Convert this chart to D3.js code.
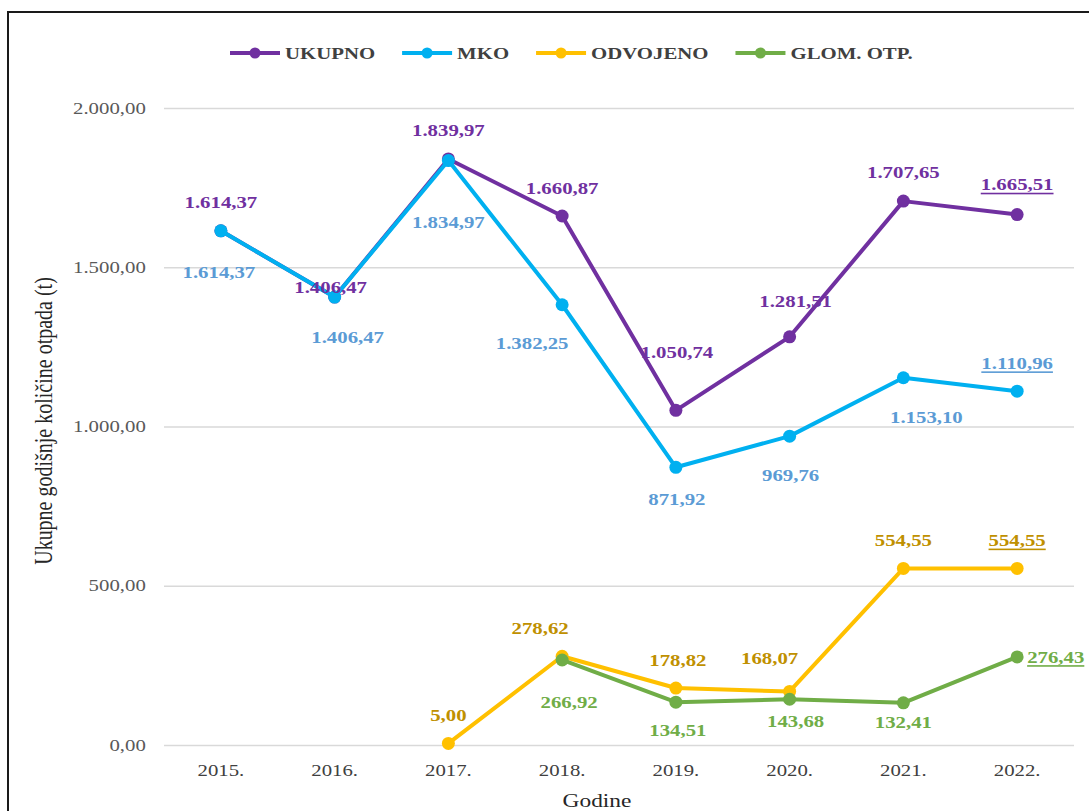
<!DOCTYPE html>
<html>

<head>
    <meta charset='utf-8'>
    <title>Otpad</title>
    <script type='text/javascript' src='https://cdn.jsdelivr.net/npm/d3@7'></script>
    <style>
        body { margin: 0; background: #fff; }
        text { font-family: 'Liberation Serif', 'Times New Roman', serif; }
    </style>
</head>

<body>
    <svg width='1089' height='811'></svg>
    <script type='text/javascript'>
        // podaci
        const years = ['2015.', '2016.', '2017.', '2018.', '2019.', '2020.', '2021.', '2022.']
        const ukupno = [1614.37, 1406.47, 1839.97, 1660.87, 1050.74, 1281.51, 1707.65, 1665.51]
        const mko = [1614.37, 1406.47, 1834.97, 1382.25, 871.92, 969.76, 1153.10, 1110.96]
        const odvojeno = [null, null, 5.00, 278.62, 178.82, 168.07, 554.55, 554.55]
        const glom = [null, null, null, 266.92, 134.51, 143.68, 132.41, 276.43]
        const yTicks = [0, 500, 1000, 1500, 2000]

        // pomaci oznaka (sredina teksta u odnosu na tocku)
        const offUkupno = [[0, -28], [-4, -10], [0, -29], [0, -28], [1, -58], [6, -35], [0, -29], [0, -30]]
        const offMko = [[-2, 42], [13, 40], [0, 62], [-30, 39], [1, 32], [1, 39], [23, 40], [0, -28]]
        const offOdv = [null, null, [0, -28], [-22, -28], [2, -28], [-20, -33], [0, -28], [0, -28]]
        const offGlom = [null, null, null, [7, 42], [2, 28], [6, 22], [0, 20], [10, 0]]

        const series = [
            { name: 'UKUPNO', values: ukupno, off: offUkupno, color: '#7030A0', label: '#7030A0' },
            { name: 'MKO', values: mko, off: offMko, color: '#00B0F0', label: '#5B9BD5' },
            { name: 'ODVOJENO', values: odvojeno, off: offOdv, color: '#FFC000', label: '#BF9000' },
            { name: 'GLOM. OTP.', values: glom, off: offGlom, color: '#70AD47', label: '#70AD47' }
        ]

        const SX = 1.3 // slika je rastegnuta vodoravno
        const svg = d3.select('svg')
        const loc = d3.formatLocale({ decimal: ',', thousands: '.', grouping: [3], currency: ['', ''] })
        const fmt = loc.format(',.2f')

        const x = d3.scaleBand().domain(years).range([164, 1074])
        const y = d3.scaleLinear().domain([0, 2000]).range([745, 108])
        const cx = i => x(years[i]) + x.bandwidth() / 2

        // okvir
        svg.append('rect')
            .attr('x', 8).attr('y', 12).attr('width', 1100).attr('height', 820)
            .attr('fill', 'none').attr('stroke', '#1a1a1a').attr('stroke-width', 2)

        // y os s mrezom
        const gy = svg.append('g').attr('transform', 'translate(164,0)')
            .call(d3.axisLeft(y).tickValues(yTicks).tickFormat(fmt).tickSize(-910))
        gy.select('.domain').remove()
        gy.selectAll('line').attr('stroke', '#d9d9d9').attr('stroke-width', 1.5)
        gy.selectAll('text')
            .attr('x', -14).attr('transform', `scale(${SX},1)`)
            .attr('fill', '#595959').style('font-size', '16px')

        // x os
        const gx = svg.append('g').attr('transform', 'translate(0,745)')
            .call(d3.axisBottom(x).tickSize(0))
        gx.select('.domain').remove()
        gx.selectAll('text')
            .attr('y', 20).attr('transform', `scale(${SX},1)`)
            .attr('fill', '#404040').style('font-size', '16px')

        // naslovi osi
        svg.append('text')
            .attr('transform', `translate(43,421) scale(${SX},1) rotate(-90)`)
            .attr('text-anchor', 'middle').attr('dominant-baseline', 'central')
            .attr('fill', '#262626').style('font-size', '20px')
            .text('Ukupne godišnje količine otpada (t)')
        svg.append('text')
            .attr('transform', `translate(597,807) scale(${SX},1)`)
            .attr('text-anchor', 'middle')
            .attr('fill', '#262626').style('font-size', '18px')
            .text('Godine')

        // linije i tocke
        const line = d3.line()
            .defined(d => d.v != null)
            .x(d => cx(d.i))
            .y(d => y(d.v))

        series.forEach(s => {
            const pts = s.values.map((v, i) => ({ v, i }))
            const g = svg.append('g')
            g.append('path')
                .attr('d', line(pts))
                .attr('fill', 'none')
                .attr('stroke', s.color)
                .attr('stroke-width', 4)
                .attr('stroke-linejoin', 'round')
            g.selectAll('circle').data(pts.filter(d => d.v != null))
                .enter().append('circle')
                .attr('cx', d => cx(d.i))
                .attr('cy', d => y(d.v))
                .attr('r', 6.5)
                .attr('fill', s.color)
        })

        // oznake vrijednosti
        series.forEach(s => {
            const pts = s.values.map((v, i) => ({ v, i })).filter(d => d.v != null)
            svg.append('g').selectAll('text').data(pts)
                .enter().append('text')
                .attr('transform', d => `translate(${cx(d.i) + s.off[d.i][0]},${y(d.v) + s.off[d.i][1]}) scale(${SX},1)`)
                .attr('text-anchor', d => (s.name === 'GLOM. OTP.' && d.i === 7) ? 'start' : 'middle')
                .attr('dominant-baseline', 'central')
                .attr('fill', s.label)
                .style('font-size', '16px')
                .style('font-weight', 'bold')
                .style('text-decoration', d => d.i === 7 ? 'underline' : 'none')
                .text(d => fmt(d.v))
        })

        // legenda
        const leg = svg.append('g').attr('transform', 'translate(0,53)')
        let lx = 230
        series.forEach(s => {
            const it = leg.append('g').attr('transform', `translate(${lx},0)`)
            it.append('line').attr('x1', 0).attr('x2', 50)
                .attr('stroke', s.color).attr('stroke-width', 4)
            it.append('circle').attr('cx', 25).attr('r', 5.5).attr('fill', s.color)
            const t = it.append('text')
                .attr('transform', `translate(55,0) scale(${SX},1)`)
                .attr('dominant-baseline', 'central')
                .attr('fill', '#404040')
                .style('font-size', '16px').style('font-weight', 'bold')
                .text(s.name)
            lx += 55 + t.node().getComputedTextLength() * SX + 27
        })
    </script>
</body>

</html>
